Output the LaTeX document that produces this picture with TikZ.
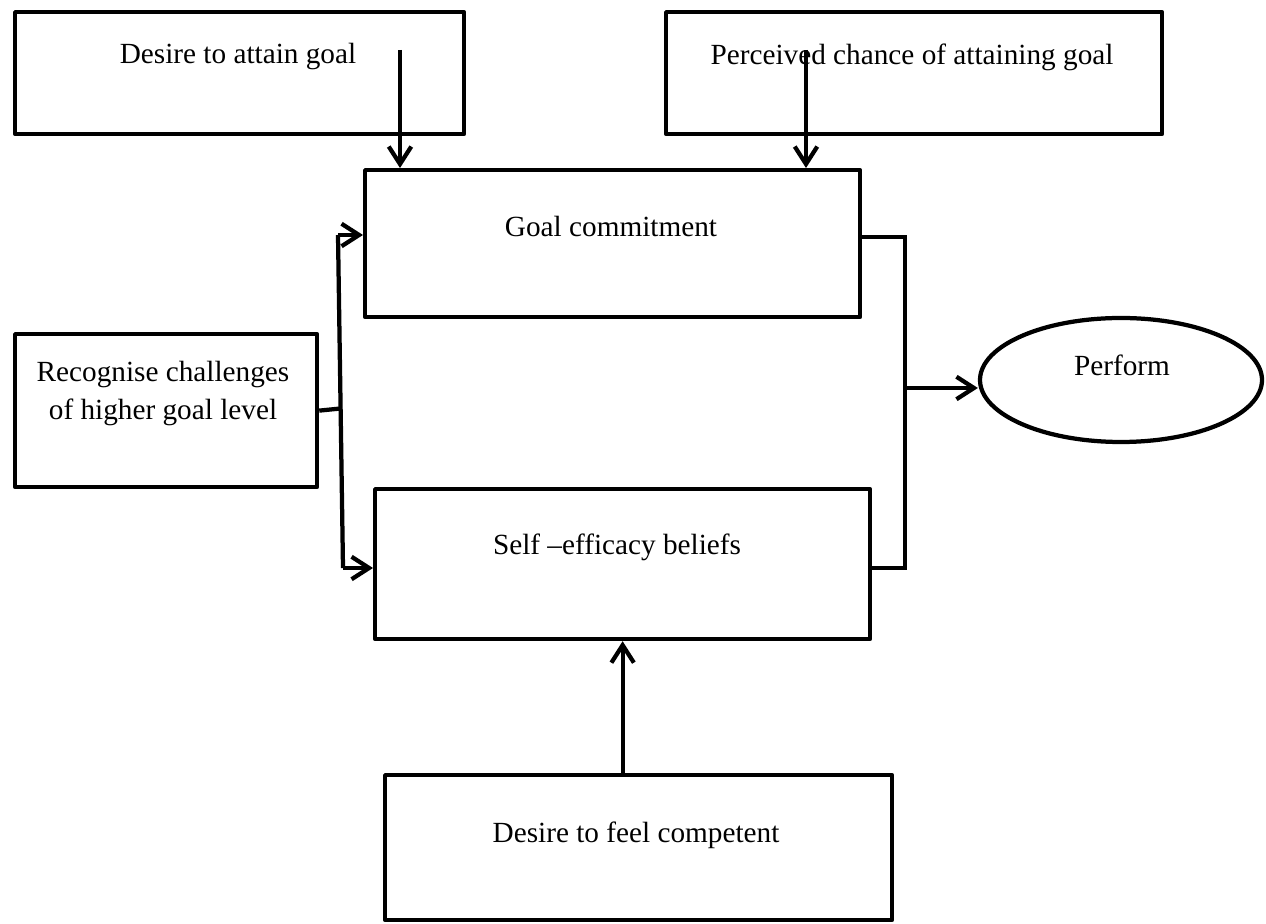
\documentclass[tikz,border=0pt]{standalone}
\usepackage{fontspec}
\setmainfont{Liberation Serif}
\usetikzlibrary{arrows.meta,shapes.geometric}
\newcommand{\pxu}{0.4pt}

\begin{document}
\begin{tikzpicture}[x=0.4pt,y=-0.4pt,>={Straight Barb[length=7pt,width=9pt]},
		goalbox/.style={draw,line width=1.7pt,line join=round,rectangle,anchor=north west,inner sep=0pt},
		boxtext/.style={align=center,font=\fontsize{11.7}{15.2}\selectfont},
		flow/.style={line width=1.7pt}]
			\useasboundingbox (0,0) rectangle (1266,924);

			\node[goalbox,minimum width=449*\pxu,minimum height=122*\pxu] (dag) at (13,10) {};
			\node[goalbox,minimum width=496*\pxu,minimum height=122*\pxu] (pca) at (664,10) {};
			\node[goalbox,minimum width=495*\pxu,minimum height=147*\pxu] (gcm) at (363,168) {};
			\node[goalbox,minimum width=302*\pxu,minimum height=153*\pxu] (rch) at (13,332) {};
			\node[goalbox,minimum width=495*\pxu,minimum height=150*\pxu] (seb) at (373,487) {};
			\node[goalbox,minimum width=507*\pxu,minimum height=145*\pxu] (dfc) at (383,773) {};
			\node[draw,ellipse,line width=1.7pt,inner sep=0pt,minimum width=282*\pxu,minimum height=124*\pxu] (prf) at (1121,380) {};

			\node[boxtext] (dagt) at (238,57) {Desire to attain goal};
			\node[boxtext] (pcat) at (912,57) {Perceived chance of attaining goal};
			\node[boxtext] (gcmt) at (611,227) {Goal commitment};
			\node[boxtext] (rcht) at (163,394) {Recognise challenges\\of higher goal level};
			\node[boxtext] (sebt) at (617,547) {Self –efficacy beliefs};
			\node[boxtext] (dfct) at (636,835) {Desire to feel competent};
			\node[boxtext] (prft) at (1122,365) {Perform};

			\coordinate (dagp) at (400,50);
			\coordinate (pcap) at (806,50);
			\coordinate (jt) at (338,235);
			\coordinate (jm) at (340.5,408.5);
			\coordinate (jb) at (343,568);
			\coordinate (rt) at (905,237);
			\coordinate (rm) at (905,388);
			\coordinate (rb) at (905,568);

			\draw[flow,->] (dagp) -- (dagp |- gcm.north);
			\draw[flow,->] (pcap) -- (pcap |- gcm.north);
			\draw[flow] (rch.east) -- (jm);
			\draw[flow] (jt) -- (jb);
			\draw[flow,->] (jt) -- (jt -| gcm.west);
			\draw[flow,->] (jb) -- (jb -| seb.west);
			\draw[flow] (rt -| gcm.east) -- (rt) -- (rb) -- (rb -| seb.east);
			\draw[flow,->] (rm) -- (rm -| prf.west);
			\draw[flow,->] (seb.south |- dfc.north) -- (seb.south);
		\end{tikzpicture}
\end{document}
